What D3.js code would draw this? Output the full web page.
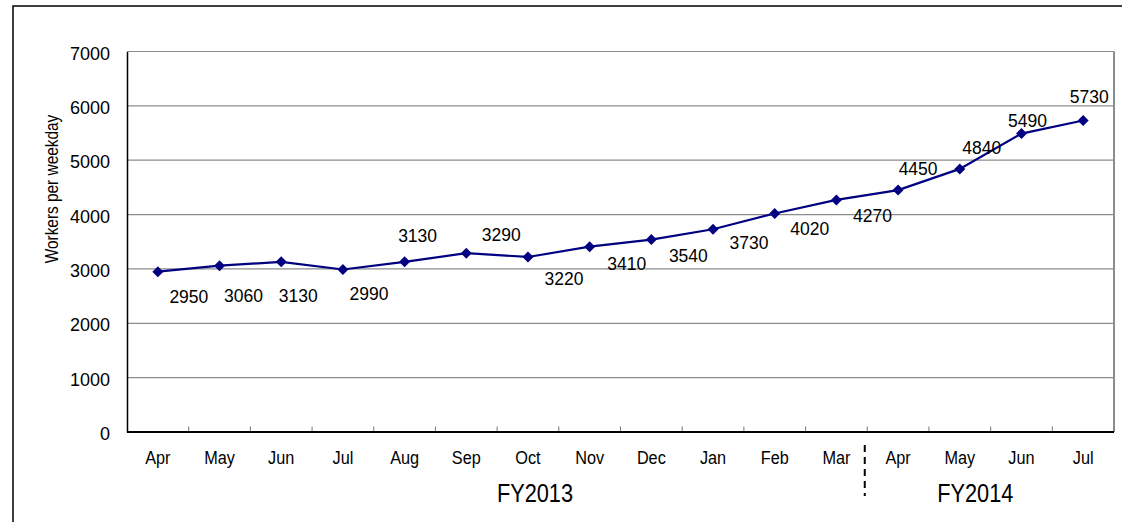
<!DOCTYPE html>
<html>
<head>
<meta charset="utf-8">
<script src="https://cdn.jsdelivr.net/npm/d3@7"></script>
<style>
  html, body { margin: 0; padding: 0; background: #fff; }
  svg { display: block; font-family: "Liberation Sans", Arial, sans-serif; }
</style>
</head>
<body>
<svg id="chart" width="1122" height="522"></svg>
<script>
// Monthly workers per weekday, FY2013 (Apr–Mar) and FY2014 (Apr–Jul)
const months = ["Apr","May","Jun","Jul","Aug","Sep","Oct","Nov","Dec","Jan","Feb","Mar","Apr","May","Jun","Jul"];
const workers = [2950, 3060, 3130, 2990, 3130, 3290, 3220, 3410, 3540, 3730, 4020, 4270, 4450, 4840, 5490, 5730];
const yTicks = [0, 1000, 2000, 3000, 4000, 5000, 6000, 7000];
const fiscalYears = ["FY2013", "FY2014"];

// label placement relative to each marker (dx, dy of the label centre)
const labelOffsets = [
  [31, 25], [24, 30], [17, 34], [26, 24], [13, -26], [35, -18], [36, 22], [37, 17],
  [37, 16], [36, 13], [35, 15], [36, 16], [20, -21], [22, -21], [6, -13], [6, -24]
];

const svg = d3.select("#chart");
const W = 1122, H = 522;
const plot = { left: 127, right: 1114, top: 51.5, bottom: 432 };

// index-based band scale so the repeated month names stay distinct
const x = d3.scaleBand().domain(d3.range(months.length)).range([plot.left, plot.right]).padding(0);
const y = d3.scaleLinear().domain([0, 7000]).range([plot.bottom, plot.top]);
const cx = i => x(i) + x.bandwidth() / 2;

// outer frame
svg.append("rect").attr("x", 13).attr("y", 6).attr("width", W + 40).attr("height", H + 40)
  .attr("fill", "#fff").attr("stroke", "#000").attr("stroke-width", 1.5);

// horizontal gridlines
svg.append("g").selectAll("line").data(yTicks.filter(d => d > 0)).join("line")
  .attr("x1", plot.left).attr("x2", plot.right)
  .attr("y1", d => y(d)).attr("y2", d => y(d))
  .attr("stroke", "#8c8c8c").attr("stroke-width", 1.2);

// right border of the plot area
svg.append("line").attr("x1", plot.right).attr("x2", plot.right)
  .attr("y1", plot.top).attr("y2", plot.bottom)
  .attr("stroke", "#8c8c8c").attr("stroke-width", 2);

// y axis
const yAxis = d3.axisLeft(y).tickValues(yTicks).tickFormat(d3.format("d")).tickSize(0).tickPadding(17);
const gy = svg.append("g").attr("transform", `translate(${plot.left},0)`).call(yAxis);
gy.select(".domain").attr("stroke", "#000").attr("stroke-width", 1.5);
gy.selectAll("text").attr("font-size", 18).attr("fill", "#000")
  .attr("font-family", '"Liberation Sans", Arial, sans-serif')
  .attr("dy", "0.42em");

// x axis: tick marks sit on the month boundaries and point into the plot
const boundaries = d3.range(1, months.length);
svg.append("g").selectAll("line").data(boundaries).join("line")
  .attr("x1", i => x(i)).attr("x2", i => x(i))
  .attr("y1", plot.bottom).attr("y2", plot.bottom - 5.5)
  .attr("stroke", "#777").attr("stroke-width", 1);
svg.append("line").attr("x1", plot.left).attr("x2", plot.right)
  .attr("y1", plot.bottom).attr("y2", plot.bottom)
  .attr("stroke", "#000").attr("stroke-width", 2);

// month labels
svg.append("g").selectAll("text").data(months).join("text")
  .attr("transform", (d, i) => `translate(${cx(i)},464) scale(0.88,1)`)
  .attr("text-anchor", "middle").attr("font-size", 18.5).attr("fill", "#000")
  .text(d => d);

// fiscal year separator between Mar and Apr
const sepX = x(12) - 2.5;
svg.append("line").attr("x1", sepX).attr("x2", sepX).attr("y1", 445).attr("y2", 496)
  .attr("stroke", "#000").attr("stroke-width", 2).attr("stroke-dasharray", "7,5");

// fiscal year labels
const fyX = [cx(6) + 7, cx(13) + 15.5];
svg.append("g").selectAll("text").data(fiscalYears).join("text")
  .attr("transform", (d, i) => `translate(${fyX[i]},501.5) scale(0.87,1)`)
  .attr("text-anchor", "middle").attr("font-size", 25).attr("fill", "#000")
  .text(d => d);

// y axis title
svg.append("text")
  .attr("transform", "translate(57.5,189) rotate(-90) scale(0.88,1)")
  .attr("text-anchor", "middle").attr("font-size", 17.5).attr("fill", "#000")
  .text("Workers per weekday");

// series line
const line = d3.line().x((d, i) => cx(i)).y(d => y(d));
svg.append("path").datum(workers).attr("d", line)
  .attr("fill", "none").attr("stroke", "#000080").attr("stroke-width", 2.2);

// diamond markers
const diamond = r => {
  const p = d3.path();
  p.moveTo(0, -r); p.lineTo(r, 0); p.lineTo(0, r); p.lineTo(-r, 0); p.closePath();
  return p.toString();
};
svg.append("g").selectAll("path").data(workers).join("path")
  .attr("transform", (d, i) => `translate(${cx(i)},${y(d)})`)
  .attr("d", diamond(5.5)).attr("fill", "#000080");

// value labels
svg.append("g").selectAll("text").data(workers).join("text")
  .attr("x", (d, i) => cx(i) + labelOffsets[i][0])
  .attr("y", (d, i) => y(d) + labelOffsets[i][1])
  .attr("dy", "0.36em")
  .attr("text-anchor", "middle").attr("font-size", 17.5).attr("fill", "#000")
  .text(d => d);
</script>
</body>
</html>
